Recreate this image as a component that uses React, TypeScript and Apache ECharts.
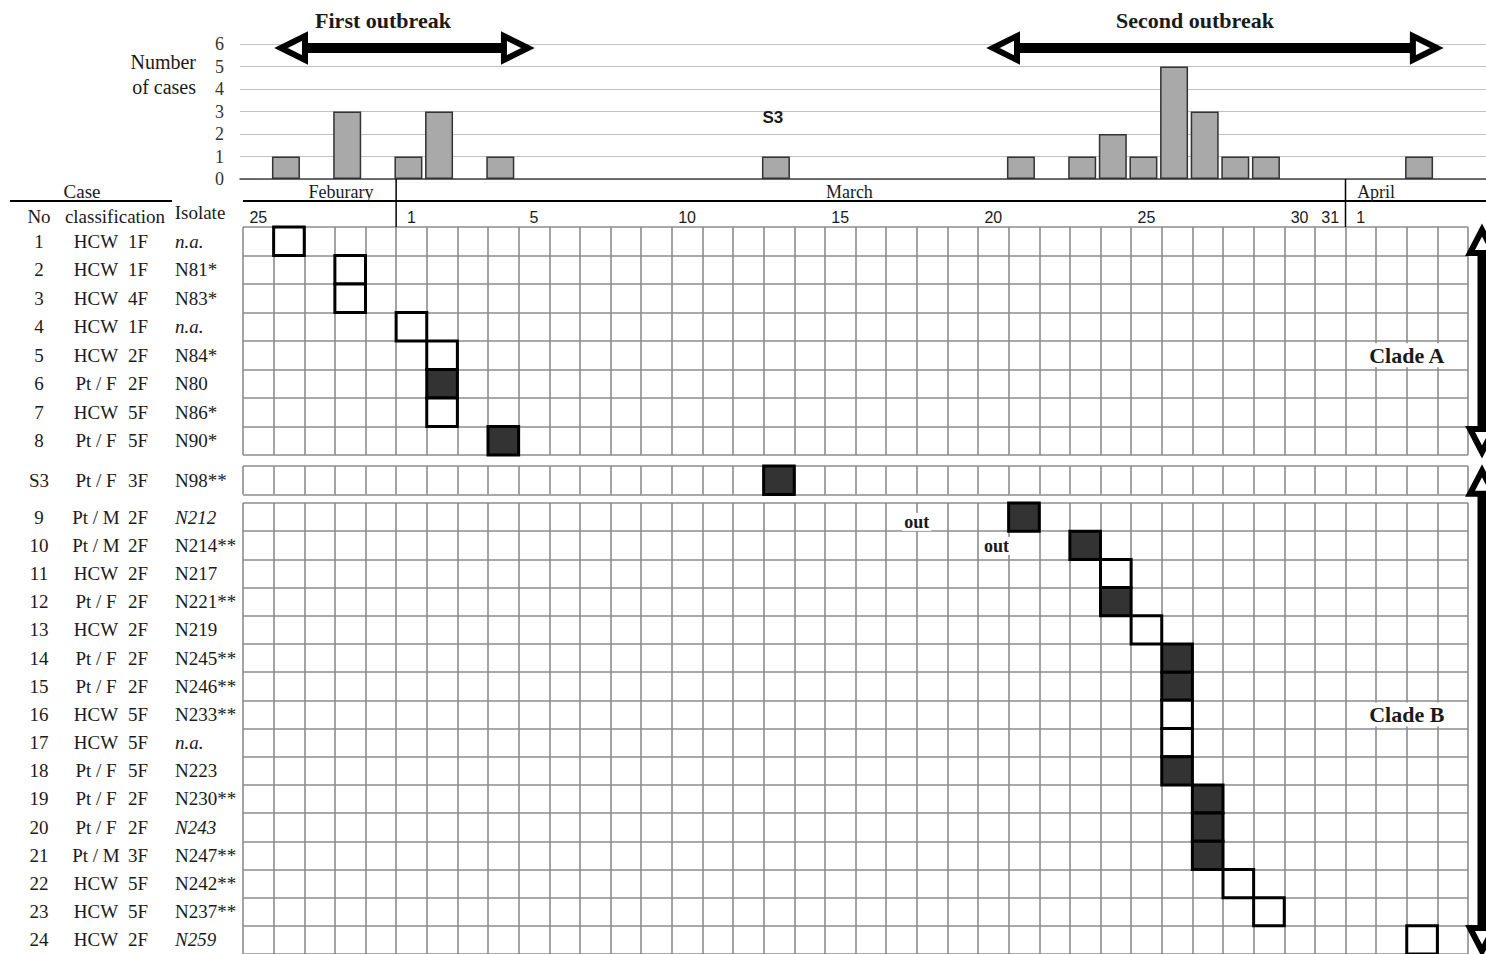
import React, { useEffect, useRef } from "react";
import * as echarts from "echarts";

// ---------------- data ----------------
// one column per day: Feb 25 .. Apr 4 (2016, Feb has 29 days)
const DAY_TICKS = [
  "25", "", "", "", "",
  "1", "", "", "", "5",
  "", "", "", "", "10",
  "", "", "", "", "15",
  "", "", "", "", "20",
  "", "", "", "", "25",
  "", "", "", "", "30",
  "31", "1", "", "", "",
];
const MONTHS = ["Feburary", "March", "April"];
const MONTH_FIRST_DAY = [0, 5, 36];
const MONTH_LABEL_DAY = [3.2, 19.8, 37.0];

const HIST_DAYS = [1, 3, 5, 6, 8, 17, 25, 27, 28, 29, 30, 31, 32, 33, 38];
const HIST_CASES = [1, 3, 1, 3, 1, 1, 1, 1, 2, 1, 5, 3, 1, 1, 1];
const HIST_MAX = 6;
const HIST_NOTE = ["S3"];
const HIST_NOTE_DAY = [17.4];
const HIST_NOTE_VALUE = [2.75];

const OUTBREAKS = ["First outbreak", "Second outbreak"];
const OUTBREAK_FROM = [1.24, 24.49];
const OUTBREAK_TO = [9.5, 39.18];

// Clade A
const A_NO = ["1", "2", "3", "4", "5", "6", "7", "8"];
const A_CLASS = ["HCW", "HCW", "HCW", "HCW", "HCW", "Pt / F", "HCW", "Pt / F"];
const A_FLOOR = ["1F", "1F", "4F", "1F", "2F", "2F", "5F", "5F"];
const A_ISOLATE = ["n.a.", "N81*", "N83*", "n.a.", "N84*", "N80", "N86*", "N90*"];
const A_DAY = [1, 3, 3, 5, 6, 6, 6, 8];

// S3
const S_NO = ["S3"];
const S_CLASS = ["Pt / F"];
const S_FLOOR = ["3F"];
const S_ISOLATE = ["N98**"];
const S_DAY = [17];

// Clade B
const B_NO = ["9", "10", "11", "12", "13", "14", "15", "16", "17", "18", "19", "20", "21", "22", "23", "24"];
const B_CLASS = ["Pt / M", "Pt / M", "HCW", "Pt / F", "HCW", "Pt / F", "Pt / F", "HCW", "HCW", "Pt / F", "Pt / F", "Pt / F", "Pt / M", "HCW", "HCW", "HCW"];
const B_FLOOR = ["2F", "2F", "2F", "2F", "2F", "2F", "2F", "5F", "5F", "5F", "2F", "2F", "3F", "5F", "5F", "2F"];
const B_ISOLATE = ["N212", "N214**", "N217", "N221**", "N219", "N245**", "N246**", "N233**", "n.a.", "N223", "N230**", "N243", "N247**", "N242**", "N237**", "N259"];
const B_DAY = [25, 27, 28, 28, 29, 30, 30, 30, 30, 30, 31, 31, 31, 32, 33, 38];

const ITALIC_ISOLATES = ["n.a.", "N212", "N243", "N259"];

const OUT_TEXT = ["out", "out"];
const OUT_DAY = [22.0, 24.6];
const OUT_ROW = [0.67, 1.52];

const CLADES = ["Clade A", "Clade B"];
const CLADE_LABEL_DAY = [38, 38];
const CLADE_LABEL_ROW = [4.5, 7.5];
const CLADE_ARROW_FROM = [0, -1.25];
const CLADE_ARROW_TO = [8, 16];

// ---------------- layout / style ----------------
const W = 1486;
const H = 954;
const SERIF = '"Liberation Serif", "Times New Roman", serif';
const SANS = '"Liberation Sans", Arial, sans-serif';
const TXT = "#1a1a1a";
const GRID_LINE = "#8c8c8c";
const GRID_LEFT = 243;
const GRID_RIGHT = 18;
const N_DAYS = DAY_TICKS.length;
const COL = (W - GRID_LEFT - GRID_RIGHT) / N_DAYS;
const HIST_LEFT = 240;

const isPatient = (c: string) => c.indexOf("Pt") === 0;

function cellRender(_params: any, api: any) {
  const d = api.value(0);
  const r = api.value(1);
  const filled = api.value(2);
  const a = api.coord([d, r]);
  const b = api.coord([d + 1, r + 1]);
  return {
    type: "rect",
    shape: {
      x: Math.min(a[0], b[0]),
      y: Math.min(a[1], b[1]),
      width: Math.abs(b[0] - a[0]),
      height: Math.abs(b[1] - a[1]),
    },
    style: { fill: filled ? "#333333" : "#ffffff", stroke: "#000", lineWidth: 3 },
  };
}

function monthRender(params: any, api: any) {
  const i = params.dataIndex;
  const cs = params.coordSys;
  const start = api.value(0);
  const xs = api.coord([start, 0])[0];
  const xl = api.coord([api.value(1), 0])[0];
  const children: any[] = [
    {
      type: "text",
      x: xl,
      y: cs.y + 13,
      style: {
        text: MONTHS[i],
        fill: TXT,
        fontSize: 18,
        fontFamily: SERIF,
        textAlign: "center",
        textVerticalAlign: "middle",
      },
    },
  ];
  if (start > 0) {
    children.push({
      type: "line",
      shape: { x1: xs, y1: cs.y, x2: xs, y2: cs.y + cs.height },
      style: { stroke: "#000", lineWidth: 1.5 },
    });
  }
  if (i === 0) {
    children.push({
      type: "line",
      shape: { x1: cs.x, y1: cs.y + 22, x2: api.getWidth(), y2: cs.y + 22 },
      style: { stroke: "#000", lineWidth: 2 },
    });
  }
  return { type: "group", children };
}

function hArrowRender(params: any, api: any) {
  const cs = params.coordSys;
  const y = cs.y + 4;
  const x1 = api.coord([api.value(0), 0])[0];
  const x2 = api.coord([api.value(1), 0])[0];
  const L = 27;
  const HH = 12;
  const head = { fill: "#fff", stroke: "#000", lineWidth: 6, lineJoin: "miter" };
  return {
    type: "group",
    children: [
      { type: "line", shape: { x1: x1 + L, y1: y, x2: x2 - L, y2: y }, style: { stroke: "#000", lineWidth: 10 } },
      { type: "polygon", shape: { points: [[x1 + 3, y], [x1 + L, y - HH], [x1 + L, y + HH]] }, style: head },
      { type: "polygon", shape: { points: [[x2 - 3, y], [x2 - L, y - HH], [x2 - L, y + HH]] }, style: head },
    ],
  };
}

function vArrowRender(params: any, api: any) {
  const cs = params.coordSys;
  const x = cs.x + cs.width + 14;
  const y1 = api.coord([0, api.value(0)])[1];
  const y2 = api.coord([0, api.value(1)])[1];
  const L = 26;
  const HW = 12;
  const head = { fill: "#fff", stroke: "#000", lineWidth: 6, lineJoin: "miter" };
  return {
    type: "group",
    children: [
      { type: "line", shape: { x1: x, y1: y1 + L, x2: x, y2: y2 - L }, style: { stroke: "#000", lineWidth: 9 } },
      { type: "polygon", shape: { points: [[x, y1 + 3], [x - HW, y1 + L], [x + HW, y1 + L]] }, style: head },
      { type: "polygon", shape: { points: [[x, y2 - 3], [x - HW, y2 - L], [x + HW, y2 - L]] }, style: head },
    ],
  };
}

function noteRender(texts: string[], style: any) {
  return (params: any, api: any) => {
    const p = api.coord([api.value(0), api.value(1)]);
    return {
      type: "text",
      x: p[0],
      y: p[1],
      style: { text: texts[params.dataIndex], textAlign: "center", textVerticalAlign: "middle", fill: TXT, ...style },
    };
  };
}

function buildOption() {
  const grid: any[] = [];
  const xAxis: any[] = [];
  const yAxis: any[] = [];
  const series: any[] = [];

  const hidden = {
    axisLine: { show: false },
    axisTick: { show: false },
    axisLabel: { show: false },
    splitLine: { show: false },
  };

  // ---- histogram ----
  grid.push({ left: HIST_LEFT, right: 0, top: 44, height: 135 });
  const hx = xAxis.length;
  xAxis.push({
    type: "value",
    gridIndex: 0,
    min: 0,
    max: (W - HIST_LEFT) / COL,
    axisLine: { show: true, onZero: false, lineStyle: { color: "#444", width: 1.5 } },
    axisTick: { show: false },
    axisLabel: { show: false },
    splitLine: { show: false },
  });
  const hy = yAxis.length;
  yAxis.push({
    type: "value",
    gridIndex: 0,
    min: 0,
    max: HIST_MAX,
    interval: 1,
    axisLine: { show: false },
    axisTick: { show: false },
    axisLabel: { margin: 16, color: "#333", fontSize: 18, fontFamily: SERIF },
    splitLine: { show: true, lineStyle: { color: "#c2c2c2", width: 1 } },
  });
  series.push({
    type: "bar",
    xAxisIndex: hx,
    yAxisIndex: hy,
    barWidth: 28,
    data: HIST_DAYS.map((d, i) => [d + 0.5, HIST_CASES[i]]),
    itemStyle: { color: "#a9a9a9", borderColor: "#333", borderWidth: 1.5 },
  });
  series.push({
    type: "custom",
    xAxisIndex: hx,
    yAxisIndex: hy,
    renderItem: noteRender(HIST_NOTE, { fontSize: 17, fontWeight: "bold", fontFamily: SANS }),
    data: HIST_NOTE.map((_, i) => [HIST_NOTE_DAY[i], HIST_NOTE_VALUE[i]]),
    z: 5,
  });
  series.push({
    type: "custom",
    xAxisIndex: hx,
    yAxisIndex: hy,
    renderItem: hArrowRender,
    data: OUTBREAKS.map((_, i) => [OUTBREAK_FROM[i], OUTBREAK_TO[i], HIST_MAX]),
    z: 6,
  });

  // ---- month header ----
  const gHead = grid.length;
  grid.push({ left: GRID_LEFT, right: GRID_RIGHT, top: 179, height: 48 });
  const mx = xAxis.length;
  xAxis.push({ type: "value", gridIndex: gHead, min: 0, max: N_DAYS, ...hidden });
  const my = yAxis.length;
  yAxis.push({ type: "value", gridIndex: gHead, min: 0, max: 1, inverse: true, ...hidden });
  series.push({
    type: "custom",
    xAxisIndex: mx,
    yAxisIndex: my,
    renderItem: monthRender,
    data: MONTHS.map((_, i) => [MONTH_FIRST_DAY[i], MONTH_LABEL_DAY[i]]),
    z: 5,
  });

  // ---- case panels ----
  const lineStyle = { color: GRID_LINE, width: 1.6 };
  const labelAxis = (gi: number, data: string[], offset: number, align: string, italic: boolean) => ({
    type: "category",
    gridIndex: gi,
    data,
    inverse: true,
    position: "left",
    offset,
    axisLine: { show: false },
    axisTick: { show: false },
    splitLine: { show: false },
    axisLabel: {
      interval: 0,
      margin: 0,
      align,
      color: TXT,
      fontSize: 19,
      fontFamily: SERIF,
      formatter: italic
        ? (v: string) => (ITALIC_ISOLATES.indexOf(v) >= 0 ? `{i|${v}}` : v)
        : undefined,
      rich: { i: { fontStyle: "italic", fontSize: 19, fontFamily: SERIF, color: TXT } },
    },
  });

  const panel = (
    top: number,
    height: number,
    no: string[],
    cls: string[],
    floor: string[],
    iso: string[],
    days: number[],
    withDates: boolean
  ) => {
    const gi = grid.length;
    grid.push({ left: GRID_LEFT, right: GRID_RIGHT, top, height });
    const xi = xAxis.length;
    xAxis.push({
      type: "value",
      gridIndex: gi,
      min: 0,
      max: N_DAYS,
      interval: 1,
      axisLine: { show: false },
      axisTick: { show: false },
      axisLabel: { show: false },
      splitLine: { show: true, lineStyle },
    });
    if (withDates) {
      xAxis.push({
        type: "category",
        gridIndex: gi,
        position: "top",
        data: DAY_TICKS.map((_, i) => String(i)),
        axisLine: { show: false },
        axisTick: { show: false },
        splitLine: { show: false },
        axisLabel: {
          interval: 0,
          margin: 2,
          color: TXT,
          fontSize: 16,
          fontFamily: SANS,
          formatter: (_v: string, idx: number) => DAY_TICKS[idx],
        },
      });
    }
    const yi = yAxis.length;
    yAxis.push({
      type: "value",
      gridIndex: gi,
      min: 0,
      max: no.length,
      interval: 1,
      inverse: true,
      axisLine: { show: false },
      axisTick: { show: false },
      axisLabel: { show: false },
      splitLine: { show: true, lineStyle },
    });
    yAxis.push(labelAxis(gi, no, GRID_LEFT - 39, "center", false));
    yAxis.push(labelAxis(gi, cls, GRID_LEFT - 96, "center", false));
    yAxis.push(labelAxis(gi, floor, GRID_LEFT - 138, "center", false));
    yAxis.push(labelAxis(gi, iso, GRID_LEFT - 175, "left", true));
    series.push({
      type: "custom",
      xAxisIndex: xi,
      yAxisIndex: yi,
      renderItem: cellRender,
      data: days.map((d, i) => [d, i, isPatient(cls[i]) ? 1 : 0]),
      z: 4,
    });
    return { xi, yi };
  };

  const A = panel(227, 228, A_NO, A_CLASS, A_FLOOR, A_ISOLATE, A_DAY, true);
  panel(466, 28.5, S_NO, S_CLASS, S_FLOOR, S_ISOLATE, S_DAY, false);
  const B = panel(503, 452.8, B_NO, B_CLASS, B_FLOOR, B_ISOLATE, B_DAY, false);

  // out notes (clade B panel)
  series.push({
    type: "custom",
    xAxisIndex: B.xi,
    yAxisIndex: B.yi,
    renderItem: noteRender(OUT_TEXT, {
      fontSize: 18,
      fontWeight: "bold",
      fontFamily: SERIF,
      backgroundColor: "#fff",
      padding: [0, 2],
    }),
    data: OUT_TEXT.map((_, i) => [OUT_DAY[i], OUT_ROW[i]]),
    z: 6,
  });

  // clade labels and arrows
  const cladeAxes = [A, B];
  CLADES.forEach((name, i) => {
    const ax = cladeAxes[i];
    series.push({
      type: "custom",
      xAxisIndex: ax.xi,
      yAxisIndex: ax.yi,
      renderItem: noteRender([name], {
        fontSize: 22,
        fontWeight: "bold",
        fontFamily: SERIF,
        backgroundColor: "#fff",
        padding: [1, 3],
      }),
      data: [[CLADE_LABEL_DAY[i], CLADE_LABEL_ROW[i]]],
      z: 6,
    });
    series.push({
      type: "custom",
      xAxisIndex: ax.xi,
      yAxisIndex: ax.yi,
      renderItem: vArrowRender,
      data: [[CLADE_ARROW_FROM[i], CLADE_ARROW_TO[i]]],
      z: 6,
    });
  });

  const txt = (text: string, x: number, y: number, size: number, align = "center", weight = "normal") => ({
    type: "text",
    x,
    y,
    style: {
      text,
      fill: TXT,
      fontSize: size,
      fontFamily: SERIF,
      fontWeight: weight,
      textAlign: align,
      textVerticalAlign: "middle",
    },
  });

  const graphic = [
    txt(OUTBREAKS[0], 383, 20, 22, "center", "bold"),
    txt(OUTBREAKS[1], 1195, 20, 22, "center", "bold"),
    txt("Number", 196, 62, 20, "right"),
    txt("of cases", 196, 87, 20, "right"),
    txt("Case", 82, 191, 19),
    { type: "line", shape: { x1: 10, y1: 201, x2: 172, y2: 201 }, style: { stroke: "#000", lineWidth: 2 } },
    txt("No", 39, 216, 19),
    txt("classification", 115, 216, 19),
    txt("Isolate", 200, 212, 19),
  ];

  return {
    animation: false,
    backgroundColor: "#fff",
    textStyle: { fontFamily: SERIF },
    grid,
    xAxis,
    yAxis,
    series,
    graphic,
  };
}

export default function App() {
  const ref = useRef<HTMLDivElement>(null);
  useEffect(() => {
    document.body.style.margin = "0";
    document.body.style.overflow = "hidden";
    if (!ref.current) return;
    const chart = echarts.init(ref.current, undefined, { renderer: "svg" });
    chart.setOption(buildOption() as any);
    return () => chart.dispose();
  }, []);
  return (
    <div
      ref={ref}
      style={{ position: "absolute", left: 0, top: 0, width: W, height: H, background: "#fff" }}
    />
  );
}
